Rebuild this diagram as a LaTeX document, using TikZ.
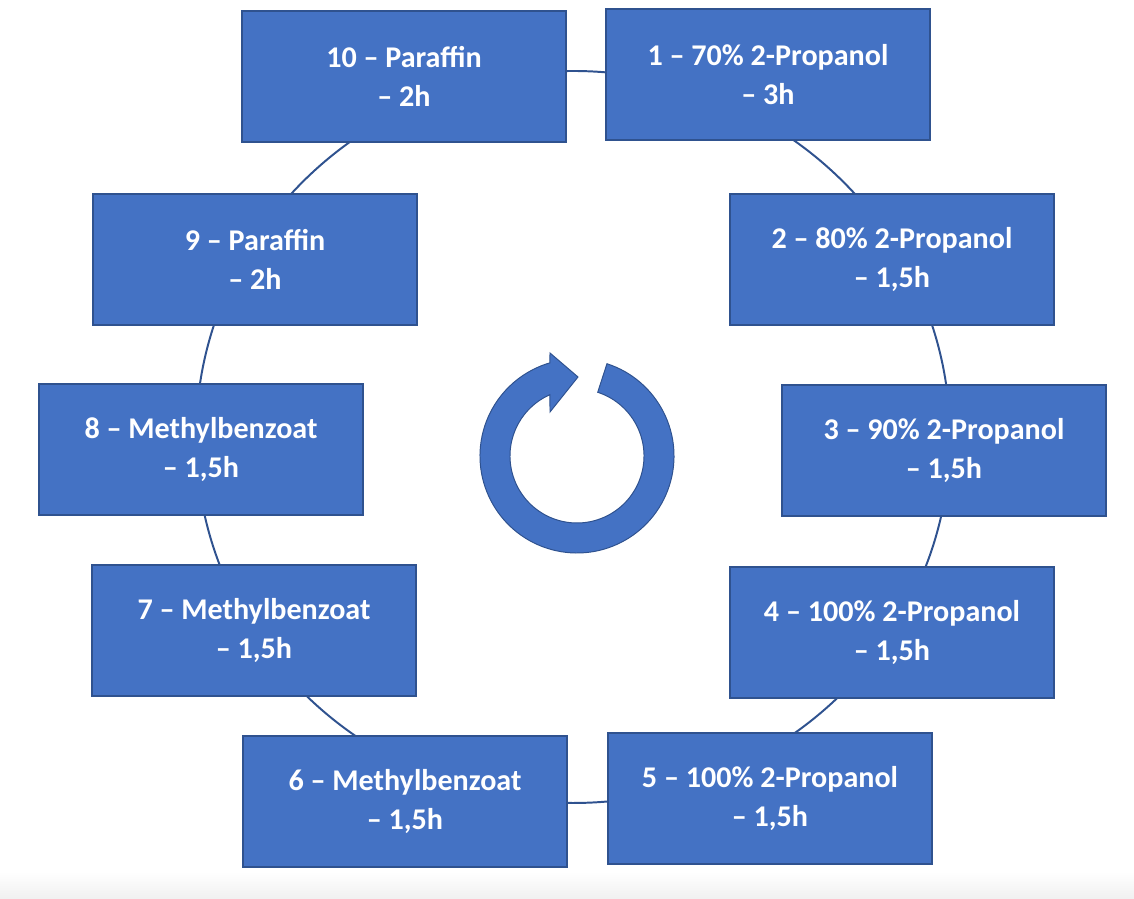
\documentclass[tikz,border=0pt]{standalone}
\usepackage{fontspec}
\setmainfont{Carlito}

\definecolor{stageblue}{HTML}{4472C4}
\definecolor{stageedge}{HTML}{2F528F}
\definecolor{shadowgray}{HTML}{F0F0F0}

\tikzset{
  stage/.style={draw=stageedge, fill=stageblue, line width=1.9pt, text=white,
    align=center, minimum width=8.1cm, minimum height=3.28cm, inner sep=0pt,
    font=\fontsize{21.4}{27.7}\selectfont\bfseries},
  ring/.style={draw=stageedge, line width=1.4pt},
  turn/.style={fill=stageblue, draw=stageedge, line width=0.7pt},
}

\begin{document}
\begin{tikzpicture}[x=0.025cm,y=0.025cm]
\useasboundingbox (0,0) rectangle (1134,899);
\shade [top color=white, bottom color=shadowgray] (0,0) rectangle (1134,27);

% ring behind the stages
\coordinate (mid) at (573,462);
\draw [ring] (mid) ellipse [x radius=377, y radius=366];

\node [stage] (s1) at (768,824.5) {1 – 70\% 2-Propanol\\– 3h};
\node [stage] (s2) at (892,639.5) {2 – 80\% 2-Propanol\\– 1,5h};
\node [stage] (s3) at (944,448.5) {3 – 90\% 2-Propanol\\– 1,5h};
\node [stage] (s4) at (892,266.5) {4 – 100\% 2-Propanol\\– 1,5h};
\node [stage] (s5) at (770,100.5) {5 – 100\% 2-Propanol\\– 1,5h};

\node [stage] (s6) at (405,97.5) {6 – Methylbenzoat\\– 1,5h};
\node [stage] (s7) at (254,268.5) {7 – Methylbenzoat\\– 1,5h};
\node [stage] (s8) at (201,449.5) {8 – Methylbenzoat\\– 1,5h};
\node [stage] (s9) at (255,639.5) {9 – Paraffin\\– 2h};
\node [stage] (s10) at (404,822.5) {10 – Paraffin\\– 2h};

% turning arrow in the middle
\begin{scope}[shift={(577,443)}]
\filldraw [turn] (72:97) arc [start angle=72, end angle=-253.8, radius=97]
  -- (-27,103) -- (1,79) -- (-27,44)
  -- (113.8:67) arc [start angle=113.8, end angle=432, radius=67] -- cycle;
\end{scope}
\end{tikzpicture}
\end{document}
